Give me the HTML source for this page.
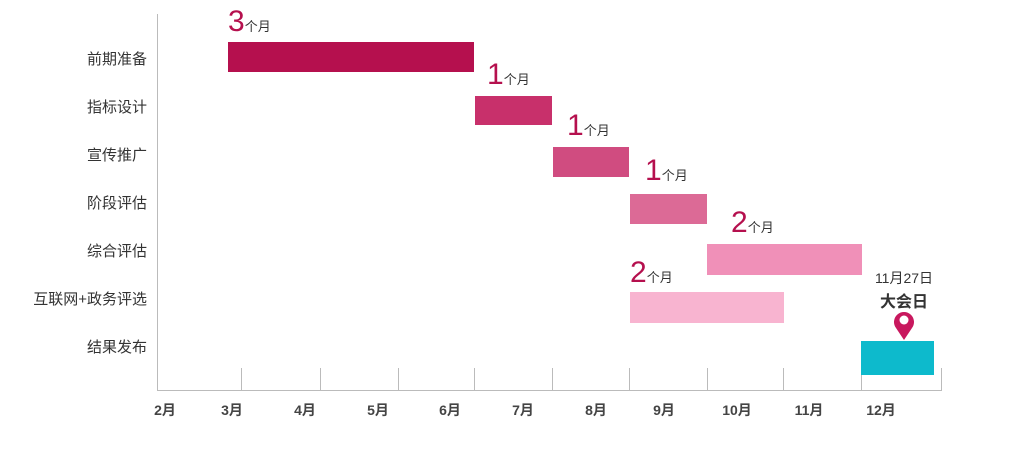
<!DOCTYPE html>
<html><head><meta charset="utf-8"><style>
body{margin:0;background:#fff;width:1017px;height:466px;overflow:hidden;position:relative;font-family:"Liberation Sans","Noto Sans CJK SC",sans-serif;}
.a{position:absolute}
.lab{position:absolute;width:200px;left:-53px;text-align:right;font-size:15px;color:#333;}
.bar{position:absolute}
.n{position:absolute;color:#b5104e;font-size:30px;line-height:30px;white-space:nowrap}
.n span{font-size:13px;color:#333}
.m{position:absolute;top:400px;font-size:14px;font-weight:bold;color:#444;width:40px;text-align:center;margin-left:-20px}
.t{position:absolute;top:368px;width:1px;height:22px;background:#bbb}
</style></head><body>
<div class="a" style="left:157px;top:14px;width:1px;height:377px;background:#bbb"></div>
<div class="a" style="left:157px;top:390px;width:785px;height:1px;background:#bbb"></div>
<div class="t" style="left:241px"></div><div class="t" style="left:320px"></div><div class="t" style="left:398px"></div><div class="t" style="left:474px"></div><div class="t" style="left:552px"></div><div class="t" style="left:629px"></div><div class="t" style="left:707px"></div><div class="t" style="left:783px"></div><div class="t" style="left:861px"></div><div class="t" style="left:941px"></div>
<div class="m" style="left:165px">2月</div><div class="m" style="left:232px">3月</div><div class="m" style="left:305px">4月</div><div class="m" style="left:378px">5月</div><div class="m" style="left:450px">6月</div><div class="m" style="left:523px">7月</div><div class="m" style="left:596px">8月</div><div class="m" style="left:664px">9月</div><div class="m" style="left:737px">10月</div><div class="m" style="left:809px">11月</div><div class="m" style="left:881px">12月</div>
<div class="lab" style="top:48px">前期准备</div>
<div class="lab" style="top:96px">指标设计</div>
<div class="lab" style="top:144px">宣传推广</div>
<div class="lab" style="top:192px">阶段评估</div>
<div class="lab" style="top:240px">综合评估</div>
<div class="lab" style="top:288px">互联网+政务评选</div>
<div class="lab" style="top:336px">结果发布</div>
<div class="bar" style="left:228px;top:42px;width:246px;height:30px;background:#b5104e"></div>
<div class="bar" style="left:475px;top:96px;width:77px;height:29px;background:#c8306b"></div>
<div class="bar" style="left:553px;top:147px;width:76px;height:30px;background:#d04c80"></div>
<div class="bar" style="left:630px;top:194px;width:77px;height:30px;background:#dc6a96"></div>
<div class="bar" style="left:707px;top:244px;width:155px;height:31px;background:#f090b8"></div>
<div class="bar" style="left:630px;top:292px;width:154px;height:31px;background:#f8b4d0"></div>
<div class="bar" style="left:861px;top:341px;width:73px;height:34px;background:#0dbacc"></div>
<div class="n" style="left:228px;top:7px">3<span>个月</span></div>
<div class="n" style="left:487px;top:60px">1<span>个月</span></div>
<div class="n" style="left:567px;top:111px">1<span>个月</span></div>
<div class="n" style="left:645px;top:156px">1<span>个月</span></div>
<div class="n" style="left:731px;top:208px">2<span>个月</span></div>
<div class="n" style="left:630px;top:258px">2<span>个月</span></div>
<div class="a" style="left:864px;top:268px;width:80px;text-align:center;font-size:14px;color:#333">11月27日</div>
<div class="a" style="left:864px;top:288px;width:80px;text-align:center;font-size:16px;font-weight:bold;color:#333">大会日</div>
<svg class="a" style="left:892px;top:309px" width="24" height="32" viewBox="0 0 24 32"><path d="M12 31 L4 19 A10 10 0 1 1 20 19 Z" fill="#c8185e"/><circle cx="12" cy="11" r="4.5" fill="#fff"/></svg>
</body></html>
